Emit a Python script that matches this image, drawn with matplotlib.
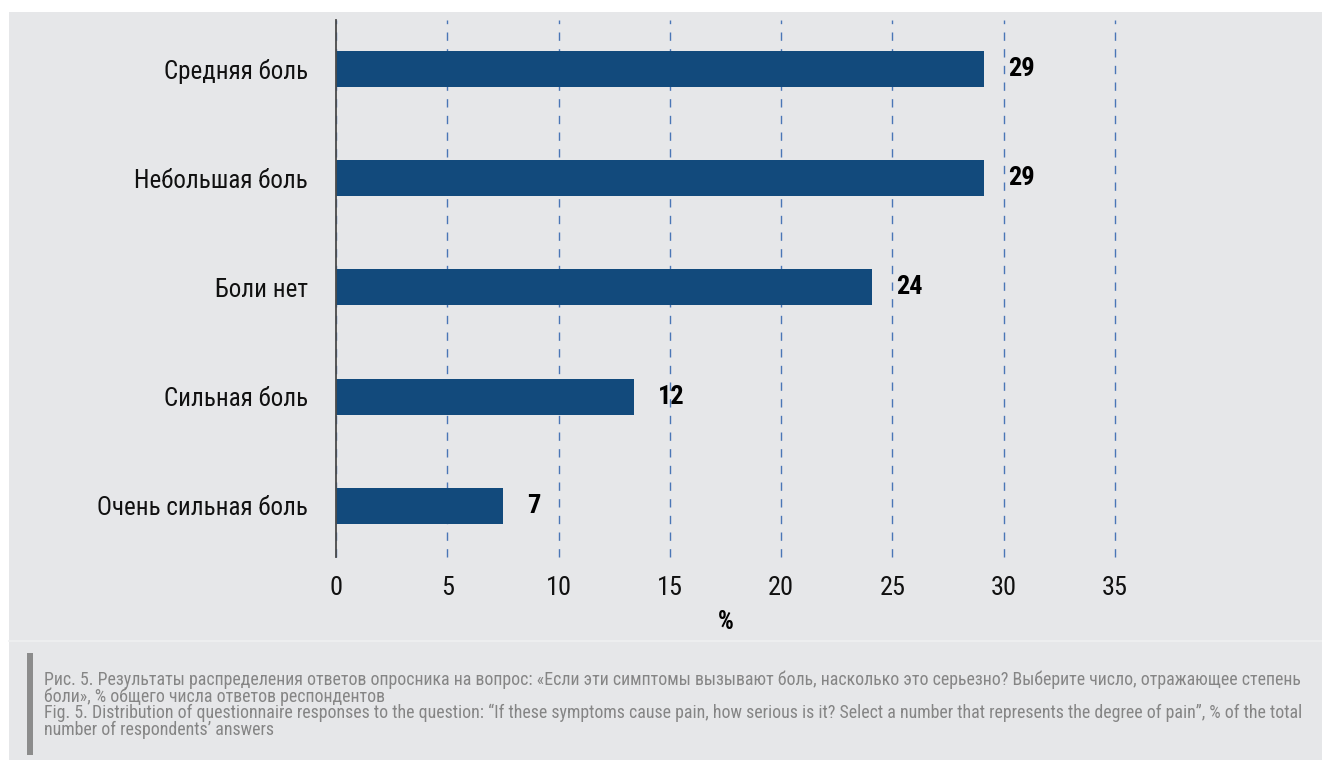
import numpy as np
import matplotlib
matplotlib.use("Agg")
import matplotlib.pyplot as plt
from matplotlib import font_manager
from matplotlib.patches import Rectangle
from matplotlib.lines import Line2D

# данные
categories = ["Средняя боль", "Небольшая боль", "Боли нет", "Сильная боль", "Очень сильная боль"]
values = [29.1, 29.1, 24.1, 13.4, 7.5]
value_labels = ["29", "29", "24", "12", "7"]
x_ticks = [0, 5, 10, 15, 20, 25, 30, 35]
x_label = "%"
caption_lines = [
    "Рис. 5. Результаты распределения ответов опросника на вопрос: «Если эти симптомы вызывают боль, насколько это серьезно? Выберите число, отражающее степень",
    "боли», % общего числа ответов респондентов",
    "Fig. 5. Distribution of questionnaire responses to the question: “If these symptoms cause pain, how serious is it? Select a number that represents the degree of pain”, % of the total",
    "number of respondents’ answers",
]

# шрифт (узкий, если есть)
names = {f.name for f in font_manager.fontManager.ttflist}
font = "DejaVu Sans"
for cand in ["Liberation Sans Narrow", "Roboto Condensed", "Liberation Sans"]:
    if cand in names:
        font = cand
        break
plt.rcParams["font.family"] = [font, "DejaVu Sans"]
plt.rcParams["lines.scale_dashes"] = False

W, H = 1322, 760
bg = "#e6e7e9"
bar_color = "#124a7c"
grid_color = "#4a76b6"

fig = plt.figure(figsize=(W / 100, H / 100), dpi=100)
fig.patch.set_facecolor("white")

# серый фон
fig.patches.append(Rectangle((9 / W, 0), 1, (H - 12) / H, transform=fig.transFigure,
                             facecolor=bg, edgecolor="none", zorder=-10))
# разделитель подписи
fig.lines.append(Line2D([9 / W, 1], [1 - 641 / H, 1 - 641 / H], transform=fig.transFigure,
                        color="#eff0f1", lw=1.2, zorder=-5))
# полоска слева у подписи
fig.patches.append(Rectangle((27 / W, 1 - 755 / H), 6 / W, (755 - 653) / H,
                             transform=fig.transFigure, facecolor="#8c8c8c",
                             edgecolor="none", zorder=-5))

ax = fig.add_axes([336 / W, 1 - 557 / H, (1115 - 336) / W, (557 - 20) / H])
ax.set_facecolor("none")

y = np.arange(len(categories))
ax.barh(y, values, height=0.33, color=bar_color, zorder=3)

for yi, v, lab in zip(y, values, value_labels):
    ax.annotate(lab, (v, yi), xytext=(24, 0), textcoords="offset pixels",
                ha="left", va="center", fontsize=19, fontweight="bold", color="black")

ax.set_xlim(0, 35)
ax.set_ylim(len(categories) - 1 + 0.467, -0.448)
ax.set_xticks(x_ticks)
ax.set_yticks(y)
ax.set_yticklabels(categories)
ax.tick_params(axis="both", length=0, labelsize=19, colors="#111111")
ax.tick_params(axis="y", labelsize=18, pad=20)
ax.tick_params(axis="x", pad=14)

ax.xaxis.grid(True, color=grid_color, lw=1.0, linestyle=(0, (6, 6)), zorder=0)
for gl in ax.get_xgridlines():
    gl.set_clip_on(False)
ax.set_axisbelow(True)
for s in ["top", "right", "bottom"]:
    ax.spines[s].set_visible(False)
ax.spines["left"].set_color("#4a4a4a")
ax.spines["left"].set_linewidth(1.3)
ax.spines["left"].set_zorder(4)

ax.set_xlabel(x_label, fontsize=18, fontweight="bold", labelpad=7)

# подпись к рисунку
baselines = [685, 702, 718, 735]
for txt, b in zip(caption_lines, baselines):
    fig.text(44 / W, 1 - b / H, txt, fontsize=12.9, color="#858585", ha="left", va="baseline")

fig.savefig("out.png", dpi=100, facecolor=fig.get_facecolor())
